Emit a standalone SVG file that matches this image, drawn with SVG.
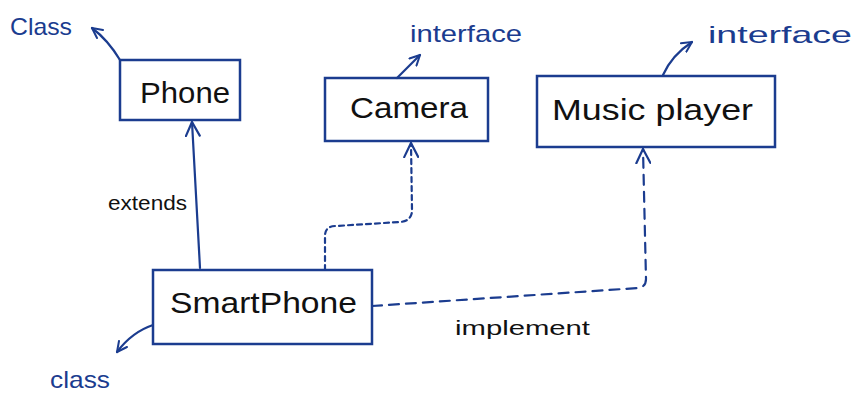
<svg xmlns="http://www.w3.org/2000/svg" width="855" height="397" viewBox="0 0 855 397">
  <style>
    .box { fill: none; stroke: #1b3c8f; stroke-width: 2.5; }
    .name { font-family: "Liberation Sans", "DejaVu Sans", sans-serif; font-size: 30px; fill: #111; }
    .tag { font-family: "Liberation Sans", "DejaVu Sans", sans-serif; font-size: 24px; fill: #1b3c8f; }
    .rel { font-family: "Liberation Sans", "DejaVu Sans", sans-serif; font-size: 20px; fill: #111; }
    .line { fill: none; stroke: #1b3c8f; stroke-width: 2.2; stroke-linecap: round; }
    .dash-a { stroke-dasharray: 5 4; }
    .dash-b { stroke-dasharray: 10 7; }
  </style>
  <defs>
    <marker id="open" viewBox="0 0 12 12" refX="11" refY="6" markerWidth="12" markerHeight="12" markerUnits="userSpaceOnUse" orient="auto">
      <path d="M1,1 L11,6 L1,11" fill="none" stroke="#1b3c8f" stroke-width="2" stroke-linecap="round" stroke-linejoin="round"/>
    </marker>
    <marker id="open-lg" viewBox="0 0 16 16" refX="15" refY="8" markerWidth="16" markerHeight="16" markerUnits="userSpaceOnUse" orient="auto">
      <path d="M1,1 L15,8 L1,15" fill="none" stroke="#1b3c8f" stroke-width="2.2" stroke-linecap="round" stroke-linejoin="round"/>
    </marker>
  </defs>

  <rect width="855" height="397" fill="#fff"/>

  <g id="phone">
    <rect class="box" x="120" y="60" width="120" height="60"/>
    <text class="name" x="140" y="103" textLength="90" lengthAdjust="spacingAndGlyphs">Phone</text>
    <text class="tag" x="10" y="35" textLength="62" lengthAdjust="spacingAndGlyphs">Class</text>
  </g>

  <g id="camera">
    <rect class="box" x="325" y="78" width="163" height="63"/>
    <text class="name" x="350" y="118" textLength="118" lengthAdjust="spacingAndGlyphs">Camera</text>
    <text class="tag" x="410" y="42" textLength="112" lengthAdjust="spacingAndGlyphs">interface</text>
  </g>

  <g id="music-player">
    <rect class="box" x="537" y="76" width="238" height="71"/>
    <text class="name" x="552" y="120" textLength="201" lengthAdjust="spacingAndGlyphs">Music player</text>
    <text class="tag" x="708" y="43" textLength="144" lengthAdjust="spacingAndGlyphs">interface</text>
  </g>

  <g id="smartphone">
    <rect class="box" x="153" y="270" width="219" height="74"/>
    <text class="name" x="170" y="313" textLength="187" lengthAdjust="spacingAndGlyphs">SmartPhone</text>
    <text class="tag" x="50" y="388" textLength="60" lengthAdjust="spacingAndGlyphs">class</text>
  </g>

  <g id="connectors">
    <!-- stereotype pointers -->
    <path class="line" d="M120,60 Q108,40 92,28" marker-end="url(#open)"/>
    <path class="line" d="M397,78 L420,55" marker-end="url(#open)"/>
    <path class="line" d="M663,75 Q672,55 692,42" marker-end="url(#open)"/>
    <path class="line" d="M153,325 Q132,332 117,352" marker-end="url(#open)"/>

    <!-- extends -->
    <path class="line" d="M200,268 L192,122" marker-end="url(#open-lg)"/>
    <text class="rel" x="108" y="210" textLength="79" lengthAdjust="spacingAndGlyphs">extends</text>

    <!-- implement: Camera -->
    <path class="line dash-a" d="M325,270 L325,236 Q325,226 336,226 L400,222 Q412,221 412,210 L411,143" marker-end="url(#open-lg)"/>

    <!-- implement: Music player -->
    <path class="line dash-b" d="M372,306 L638,288 Q646,287 646,279 L643,149" marker-end="url(#open-lg)"/>
    <text class="rel" x="455" y="335" textLength="135" lengthAdjust="spacingAndGlyphs">implement</text>
  </g>
</svg>
